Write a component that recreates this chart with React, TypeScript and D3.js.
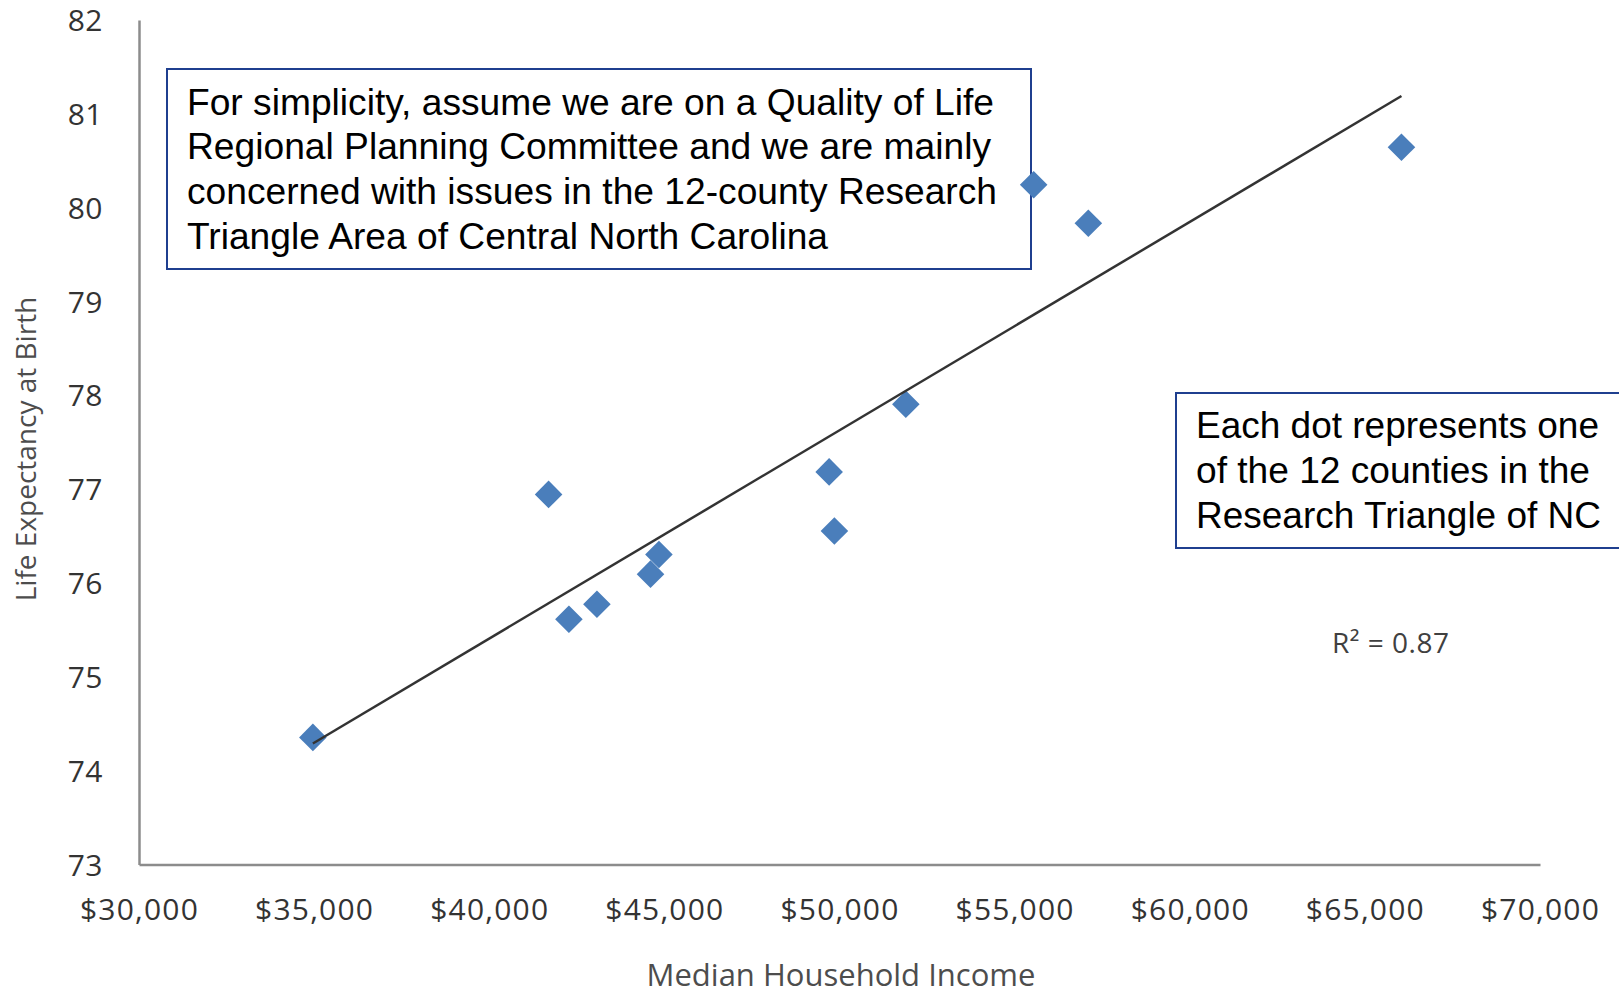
import React from "react";
import * as d3 from "d3";

// median household income per county (USD)
const incomes = [34950, 41680, 42260, 43060, 44590, 44830, 49690, 49840, 51880, 55530, 57090, 66030];
// life expectancy at birth (years)
const lifeExpectancy = [74.36, 76.95, 75.62, 75.78, 76.1, 76.31, 77.19, 76.56, 77.91, 80.25, 79.84, 80.65];

const xTicks = [30000, 35000, 40000, 45000, 50000, 55000, 60000, 65000, 70000];
const yTicks = [73, 74, 75, 76, 77, 78, 79, 80, 81, 82];

const noteLines = [
  "For simplicity, assume we are on a Quality of Life",
  "Regional Planning Committee and we are mainly",
  "concerned with issues in the 12-county Research",
  "Triangle Area of Central North Carolina",
];
const noteWidths = [807, 804, 810, 641];
const dotLines = ["Each dot represents one", "of the 12 counties in the", "Research Triangle of NC"];
const dotWidths = [403, 394, 405];
const rSquaredLabel = "R\u00b2 = 0.87";

const W = 1619;
const H = 994;
const plot = { left: 139.5, right: 1540.5, top: 20.6, bottom: 865 };
const tickFont = "'Open Sans', 'DejaVu Sans', sans-serif";
const boxFont = "'Liberation Sans', Arial, sans-serif";

export default function App() {
  const x = d3.scaleLinear().domain([30000, 70000]).range([plot.left, plot.right]);
  const y = d3.scaleLinear().domain([73, 82]).range([plot.bottom, plot.top]);

  const points = incomes.map((v, i) => ({ inc: v, life: lifeExpectancy[i] }));

  // least squares trendline, like Excel's linear trend
  const mx = d3.mean(incomes)!;
  const my = d3.mean(lifeExpectancy)!;
  const sxy = d3.sum(points, (p) => (p.inc - mx) * (p.life - my));
  const sxx = d3.sum(points, (p) => (p.inc - mx) ** 2);
  const slope = sxy / sxx;
  const [x0, x1] = d3.extent(incomes) as [number, number];
  const trend = [
    [x0, my + slope * (x0 - mx)],
    [x1, my + slope * (x1 - mx)],
  ];
  const line = d3
    .line<number[]>()
    .x((d) => x(d[0]))
    .y((d) => y(d[1]));

  const fmt = d3.format("$,");
  const diamond = d3.symbol(d3.symbolSquare, 380)()!;

  return (
    <svg
      width={W}
      height={H}
      style={{ position: "absolute", left: 0, top: 0, background: "#fff" }}
    >
      {/* axes */}
      <line x1={plot.left} x2={plot.left} y1={plot.top} y2={plot.bottom} stroke="#8c8c8c" strokeWidth={2.5} />
      <line x1={plot.left} x2={plot.right} y1={plot.bottom} y2={plot.bottom} stroke="#8c8c8c" strokeWidth={2.5} />

      {yTicks.map((t) => (
        <text
          key={t}
          x={103}
          y={y(t)}
          dy="0.35em"
          textAnchor="end"
          fontFamily={tickFont}
          fontSize={30}
          letterSpacing={0.5}
          fill="#333"
        >
          {t}
        </text>
      ))}
      {xTicks.map((t) => (
        <text
          key={t}
          x={x(t)}
          y={909}
          dy="0.35em"
          textAnchor="middle"
          fontFamily={tickFont}
          fontSize={30}
          letterSpacing={1.2}
          fill="#333"
        >
          {fmt(t)}
        </text>
      ))}

      <text
        x={841}
        y={975}
        dy="0.35em"
        textAnchor="middle"
        fontFamily={tickFont}
        fontSize={31}
        fill="#4d4d4d"
      >
        Median Household Income
      </text>
      <text
        transform={`translate(26,449) rotate(-90)`}
        dy="0.35em"
        textAnchor="middle"
        fontFamily={tickFont}
        fontSize={28}
        fill="#4d4d4d"
      >
        Life Expectancy at Birth
      </text>

      {/* note boxes */}
      <rect x={167} y={69} width={864} height={200} fill="#fff" stroke="#1f3f8f" strokeWidth={2} />
      {noteLines.map((s, i) => (
        <text
          key={s}
          x={187}
          y={114.6 + i * 44.7}
          fontFamily={boxFont}
          fontSize={36}
          textLength={noteWidths[i]}
          lengthAdjust="spacingAndGlyphs"
          fill="#000"
        >
          {s}
        </text>
      ))}
      <rect x={1176} y={393} width={470} height={155} fill="#fff" stroke="#1f3f8f" strokeWidth={2} />
      {dotLines.map((s, i) => (
        <text
          key={s}
          x={1196}
          y={438 + i * 44.9}
          fontFamily={boxFont}
          fontSize={36}
          textLength={dotWidths[i]}
          lengthAdjust="spacingAndGlyphs"
          fill="#000"
        >
          {s}
        </text>
      ))}

      <text x={1332} y={653} fontFamily={tickFont} fontSize={28} letterSpacing={0.5} fill="#404040">
        {rSquaredLabel}
      </text>

      {/* points */}
      {points.map((p, i) => (
        <path
          key={i}
          d={diamond}
          transform={`translate(${x(p.inc)},${y(p.life)}) rotate(45)`}
          fill="#4a7ebb"
        />
      ))}

      {/* trendline */}
      <path d={line(trend)!} fill="none" stroke="#333" strokeWidth={2.5} />
    </svg>
  );
}
